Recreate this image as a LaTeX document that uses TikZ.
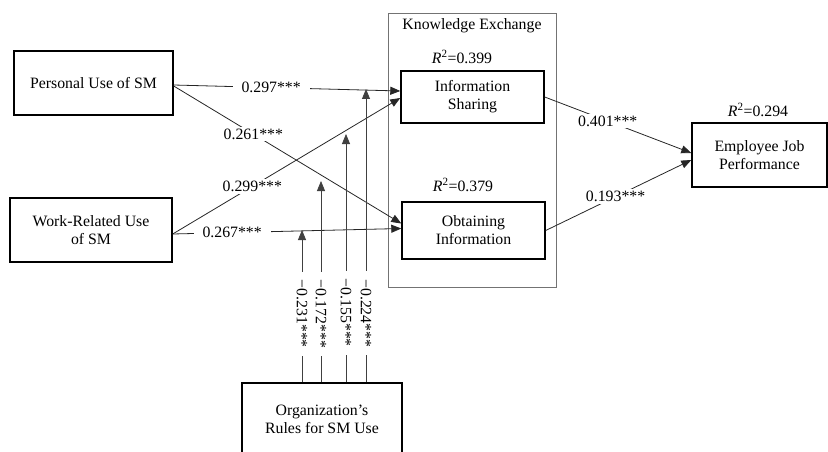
\documentclass[tikz,border=0pt]{standalone}
\usepackage{fontspec}
\setmainfont{Liberation Serif}
\usetikzlibrary{arrows.meta,calc}

\begin{document}
\begin{tikzpicture}[
  x=1pt, y=-1pt,
  >={Triangle[length=10pt,width=8pt]},
  every node/.style={font=\fontsize{15.8}{18}\selectfont},
  box/.style={draw,line width=1.4pt,align=center,inner sep=0pt},
  effect/.style={->,draw=black!85,line width=0.8pt},
  coef/.style={fill=white,inner xsep=9pt,inner ysep=2pt},
  modline/.style={->,draw=black!75,line width=0.8pt},
  modcoef/.style={fill=white,rotate=-90,inner xsep=8pt,inner ysep=1pt}
]
  \useasboundingbox (0,0) rectangle (828,452);

  % predictors
  \node[box,minimum width=159pt,minimum height=64pt] (personal) at (93.5,83) {Personal Use of SM};
  \node[box,minimum width=162pt,minimum height=64pt] (work) at (91,230) {Work-Related Use\\of SM};

  % knowledge exchange
  \draw[black!55,line width=0.8pt] (388,13) rectangle (556,287);
  \node (kextitle) at (472,26) {Knowledge Exchange};
  \node[box,minimum width=143pt,minimum height=52pt] (share) at (472.5,97) {Information\\Sharing};
  \node (r2share) at (462,57) {\textit{R}\textsuperscript{2}=0.399};
  \node[box,minimum width=143pt,minimum height=57pt] (obtain) at (473.5,230.5) {Obtaining\\Information};
  \node (r2obtain) at (463,185) {\textit{R}\textsuperscript{2}=0.379};

  % outcome
  \node[box,minimum width=135pt,minimum height=64pt] (perf) at (759.5,155) {Employee Job\\Performance};
  \node (r2perf) at (758,110) {\textit{R}\textsuperscript{2}=0.294};

  % moderator
  \node[box,minimum width=160pt,minimum height=72pt] (rules) at (322,419) {Organization’s\\Rules for SM Use};

  % direct effects
  \draw[effect] ([yshift=-2pt]personal.east) -- node[coef,pos=0.43]{0.297***} ([yshift=6pt]share.west);
  \draw[effect] ([yshift=-3pt]personal.east) -- node[coef,pos=0.35]{0.261***} ([yshift=7pt]obtain.west);
  \draw[effect] ([yshift=-4pt]work.east) -- node[coef,pos=0.35]{0.299***} ([yshift=-1pt]share.west);
  \draw[effect] ([yshift=-4pt]work.east) -- node[coef,pos=0.26]{0.267***} ([yshift=2pt]obtain.west);
  \draw[effect] (share.east) -- node[coef,pos=0.43]{0.401***} ([yshift=2pt]perf.west);
  \draw[effect] (obtain.east) -- node[coef,pos=0.48]{0.193***} ([yshift=-5pt]perf.west);

  % moderating effects
  \coordinate (m1) at (302,230);
  \coordinate (m2) at (321,181);
  \coordinate (m3) at (346,134);
  \coordinate (m4) at (366,89);
  \foreach \dx/\tip/\p/\val in {-20/m1/0.45/0.231,-1/m2/0.34/0.172,24/m3/0.28/0.155,44/m4/0.235/0.224}
    \draw[modline] ([xshift=\dx pt]rules.north) -- node[modcoef,pos=\p]{−\val***} (\tip);
\end{tikzpicture}
\end{document}
